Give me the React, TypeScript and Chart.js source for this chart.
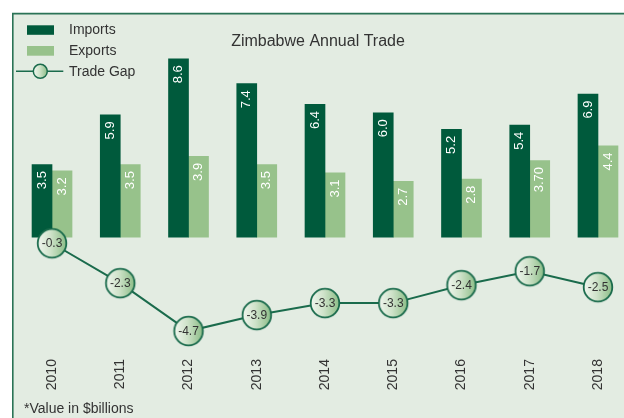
import React, { useEffect, useRef } from "react";
import { Chart, registerables } from "chart.js";

Chart.register(...registerables);

const years = ["2010", "2011", "2012", "2013", "2014", "2015", "2016", "2017", "2018"];
const imports = [3.5, 5.9, 8.6, 7.4, 6.4, 6.0, 5.2, 5.4, 6.9];
const exportsData = [3.2, 3.5, 3.9, 3.5, 3.1, 2.7, 2.8, 3.7, 4.4];
const tradeGap = [-0.3, -2.3, -4.7, -3.9, -3.3, -3.3, -2.4, -1.7, -2.5];
const importLabels = ["3.5", "5.9", "8.6", "7.4", "6.4", "6.0", "5.2", "5.4", "6.9"];
const exportLabels = ["3.2", "3.5", "3.9", "3.5", "3.1", "2.7", "2.8", "3.70", "4.4"];
const gapLabels = ["-0.3", "-2.3", "-4.7", "-3.9", "-3.3", "-3.3", "-2.4", "-1.7", "-2.5"];

const TITLE = "Zimbabwe Annual Trade";
const FOOTNOTE = "*Value in $billions";

const FONT = "'Liberation Sans', Arial, sans-serif";
const DARK = "#005a3c";
const LIGHT = "#97c28b";
const LINE = "#1a6b4c";
const BG = "#e3ece2";
const TEXT = "#333333";

function drawMarker(ctx: CanvasRenderingContext2D, cx: number, cy: number, r: number, lw: number) {
  const g = ctx.createLinearGradient(cx - r, cy, cx + r, cy);
  g.addColorStop(0, "#f1f6ef");
  g.addColorStop(0.45, "#cfe3ca");
  g.addColorStop(1, "#8cbd87");
  ctx.beginPath();
  ctx.arc(cx, cy, r, 0, Math.PI * 2);
  ctx.fillStyle = g;
  ctx.fill();
  ctx.lineWidth = lw;
  ctx.strokeStyle = LINE;
  ctx.stroke();
}

function makeMarker(r: number) {
  const size = 2 * Math.ceil(r + 2);
  const c = document.createElement("canvas");
  c.width = size;
  c.height = size;
  const ctx = c.getContext("2d")!;
  drawMarker(ctx, size / 2, size / 2, r, 1.8);
  return c;
}

const bgPlugin = {
  id: "bgPlugin",
  beforeDraw(chart: any) {
    const { ctx, width, height } = chart;
    ctx.save();
    ctx.fillStyle = "#ffffff";
    ctx.fillRect(0, 0, width, height);
    ctx.fillStyle = BG;
    ctx.fillRect(12, 13, width - 12, height - 13);
    ctx.strokeStyle = "#2a7356";
    ctx.lineWidth = 1.6;
    ctx.beginPath();
    ctx.moveTo(12.8, height);
    ctx.lineTo(12.8, 13.6);
    ctx.lineTo(width, 13.6);
    ctx.stroke();
    ctx.restore();
  },
};

const labelPlugin = {
  id: "labelPlugin",
  afterDatasetsDraw(chart: any) {
    const { ctx } = chart;
    ctx.save();
    const barSets = [
      { idx: 1, labels: importLabels },
      { idx: 2, labels: exportLabels },
    ];
    ctx.font = `13px ${FONT}`;
    ctx.fillStyle = "#ffffff";
    ctx.textAlign = "right";
    ctx.textBaseline = "middle";
    barSets.forEach(({ idx, labels }) => {
      const meta = chart.getDatasetMeta(idx);
      meta.data.forEach((el: any, i: number) => {
        ctx.save();
        ctx.translate(el.x, el.y + 6.5);
        ctx.rotate(-Math.PI / 2);
        ctx.fillText(labels[i], 0, 0);
        ctx.restore();
      });
    });
    const lm = chart.getDatasetMeta(0);
    ctx.font = `12px ${FONT}`;
    ctx.fillStyle = TEXT;
    ctx.textAlign = "center";
    ctx.textBaseline = "middle";
    lm.data.forEach((el: any, i: number) => {
      ctx.fillText(gapLabels[i], el.x, el.y + 0.5);
    });
    ctx.restore();
  },
};

const decoPlugin = {
  id: "decoPlugin",
  afterDraw(chart: any) {
    const { ctx } = chart;
    ctx.save();
    ctx.fillStyle = TEXT;
    ctx.textBaseline = "alphabetic";
    ctx.font = `16px ${FONT}`;
    ctx.textAlign = "center";
    ctx.fillText(TITLE, 318, 45.5);

    ctx.textAlign = "left";
    ctx.font = `14px ${FONT}`;
    const ds = chart.data.datasets;
    ctx.fillStyle = ds[1].backgroundColor;
    ctx.fillRect(27, 25.3, 27, 9.5);
    ctx.fillStyle = TEXT;
    ctx.fillText(ds[1].label, 69, 33.5);
    ctx.fillStyle = ds[2].backgroundColor;
    ctx.fillRect(27, 46, 27, 9.7);
    ctx.fillStyle = TEXT;
    ctx.fillText(ds[2].label, 69, 54.7);
    ctx.strokeStyle = ds[0].borderColor;
    ctx.lineWidth = 1.5;
    ctx.beginPath();
    ctx.moveTo(16, 71.3);
    ctx.lineTo(63.3, 71.3);
    ctx.stroke();
    drawMarker(ctx, 40.3, 71.3, 7, 1.5);
    ctx.fillStyle = TEXT;
    ctx.fillText(ds[0].label, 69, 75.5);

    ctx.font = `14px ${FONT}`;
    ctx.fillText(FOOTNOTE, 24, 412.7);
    ctx.restore();
  },
};

export default function App() {
  const ref = useRef<HTMLCanvasElement | null>(null);

  useEffect(() => {
    if (!ref.current) return;
    const marker = makeMarker(14.3);
    const yMin = -5;
    const yMax = 10;
    const k = 20.7 / 19.9;
    const chart = new Chart(ref.current, {
      type: "bar",
      data: {
        labels: years,
        datasets: [
          {
            type: "line",
            label: "Trade Gap",
            data: tradeGap,
            yAxisID: "y2",
            borderColor: LINE,
            borderWidth: 2,
            pointStyle: marker as any,
            pointRadius: 15,
            pointHoverRadius: 15,
            clip: false,
            order: 0,
          } as any,
          {
            type: "bar",
            label: "Imports",
            data: imports,
            backgroundColor: DARK,
            barThickness: 20,
            order: 1,
          },
          {
            type: "bar",
            label: "Exports",
            data: exportsData,
            backgroundColor: LIGHT,
            barThickness: 20,
            order: 1,
          },
        ],
      },
      options: {
        responsive: false,
        animation: false,
        devicePixelRatio: 1,
        events: [],
        layout: { padding: { left: 17.9, right: 17.9, top: 29.7, bottom: 9.8 } },
        plugins: {
          legend: { display: false },
          title: { display: false },
          tooltip: { enabled: false },
        },
        scales: {
          x: {
            type: "category",
            offset: true,
            grid: { display: false, drawTicks: false },
            border: { display: false },
            ticks: {
              autoSkip: false,
              minRotation: 90,
              maxRotation: 90,
              padding: 18,
              color: TEXT,
              font: { family: FONT, size: 14 },
            },
          },
          y: { display: false, min: yMin, max: yMax },
          y2: { display: false, min: yMin * k, max: yMax * k },
        },
      },
      plugins: [bgPlugin, labelPlugin, decoPlugin],
    });
    return () => chart.destroy();
  }, []);

  return (
    <div
      style={{
        position: "fixed",
        left: 0,
        top: 0,
        width: 624,
        height: 418,
        overflow: "hidden",
        background: "#fff",
      }}
    >
      <canvas ref={ref} width={650} height={418} style={{ display: "block" }} />
    </div>
  );
}
